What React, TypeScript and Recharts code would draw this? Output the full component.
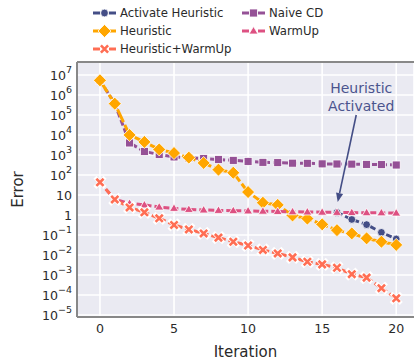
import React from "react";
import { LineChart, Line, XAxis, YAxis, CartesianGrid, ReferenceLine } from "recharts";

const iterations = [0, 1, 2, 3, 4, 5, 6, 7, 8, 9, 10, 11, 12, 13, 14, 15, 16, 17, 18, 19, 20];

const activateHeuristic = [
    null, null, null, null, null, null, null, null, null, null, null,
    null, null, null, null, null, 1.35, 0.6, 0.33, 0.135, 0.063,
];
const naiveCD = [5.4e6, 3.7e5, 4.0e3, 1.5e3, 1.05e3, 800, 710, 660, 590, 540, 480, 430, 415, 390, 385, 360, 355, 350, 340, 330, 316];
const heuristic = [5.4e6, 3.7e5, 1.0e4, 4.5e3, 1.9e3, 1.25e3, 740, 400, 185, 130, 14, 4.1, 3.2, 0.95, 0.66, 0.34, 0.175, 0.12, 0.068, 0.046, 0.032];
const warmUp = [43, 6, 3.8, 3.2, 2.5, 2.15, 1.9, 1.78, 1.7, 1.65, 1.6, 1.55, 1.5, 1.45, 1.42, 1.38, 1.35, 1.32, 1.3, 1.28, 1.25];
const heuristicWarmUp = [43, 6, 2.4, 1.36, 0.68, 0.32, 0.19, 0.12, 0.074, 0.046, 0.03, 0.018, 0.012, 0.0076, 0.0046, 0.0034, 0.0023, 0.0011, 0.00074, 0.00022, 0.000068];

const yTicks = [1e-5, 1e-4, 1e-3, 1e-2, 1e-1, 1, 10, 1e2, 1e3, 1e4, 1e5, 1e6, 1e7];
const xTicks = [0, 5, 10, 15, 20];

const Y_MIN = Math.pow(10, -5.1);
const Y_MAX = Math.pow(10, 7.65);

// annotation arrow: text end -> tip, in data coords
const arrowFrom = { x: 17.3, y: 1e5 };
const arrowTo = { x: 16.05, y: 4.5 };

const series = [
    { key: "activate", name: "Activate Heuristic", values: activateHeuristic, color: "#444e86", marker: "circle", dash: "6 3" },
    { key: "naive", name: "Naive CD", values: naiveCD, color: "#955196", marker: "square", dash: "6 3" },
    { key: "heur", name: "Heuristic", values: heuristic, color: "#ffa600", marker: "diamond", dash: "14 3" },
    { key: "warm", name: "WarmUp", values: warmUp, color: "#dd5182", marker: "triangle", dash: "6 3" },
    { key: "hw", name: "Heuristic+WarmUp", values: heuristicWarmUp, color: "#ff6e54", marker: "x", dash: "6 3" },
];

const data = iterations.map((it, i) => {
    const row: any = { iter: it };
    series.forEach(s => { row[s.key] = s.values[i]; });
    return row;
});

const FONT = "'DejaVu Sans', Verdana, sans-serif";

function Marker({ kind, cx, cy, color }: { kind: string; cx: number; cy: number; color: string }) {
    const w = "#ffffff";
    if (kind === "circle") return <circle cx={cx} cy={cy} r={3.9} fill={color} stroke={w} strokeWidth={0.8} />;
    if (kind === "square") return <rect x={cx - 4} y={cy - 4} width={8} height={8} fill={color} stroke={w} strokeWidth={0.8} />;
    if (kind === "diamond") {
        const d = 6.5;
        return <polygon points={`${cx},${cy - d} ${cx + d},${cy} ${cx},${cy + d} ${cx - d},${cy}`} fill={color} stroke={w} strokeWidth={0.8} />;
    }
    if (kind === "triangle") {
        return <polygon points={`${cx},${cy - 4.5} ${cx + 4.5},${cy + 3} ${cx - 4.5},${cy + 3}`} fill={color} stroke={w} strokeWidth={0.8} />;
    }
    // x
    const a = 3.6;
    return (
        <g>
            <path d={`M${cx - a},${cy - a}L${cx + a},${cy + a}M${cx + a},${cy - a}L${cx - a},${cy + a}`} stroke={w} strokeWidth={4.2} strokeLinecap="square" />
            <path d={`M${cx - a},${cy - a}L${cx + a},${cy + a}M${cx + a},${cy - a}L${cx - a},${cy + a}`} stroke={color} strokeWidth={2.6} />
        </g>
    );
}

const LogTick = ({ x, y, payload }: any) => {
    const e = Math.round(Math.log10(payload.value));
    const style = { fontFamily: FONT };
    if (e === 0 || e === 1) {
        return <text x={x} y={y} dy={4.6} textAnchor="end" fill="#2a2a2a" fontSize={12.6} style={style}>{e === 0 ? "1" : "10"}</text>;
    }
    return (
        <text x={x} y={y} dy={4.6} textAnchor="end" fill="#2a2a2a" fontSize={12.6} style={style}>
            10<tspan dy={-6.6} fontSize={9.5}>{e < 0 ? "\u2212" + -e : String(e)}</tspan>
        </text>
    );
};

const ArrowShape = (props: any) => {
    const { x1, y1, x2, y2 } = props;
    const c = "#444e86";
    const ang = Math.atan2(y2 - y1, x2 - x1);
    const L = 9, H = 3.6;
    const bx = x2 - L * Math.cos(ang), by = y2 - L * Math.sin(ang);
    const px = -Math.sin(ang) * H, py = Math.cos(ang) * H;
    return (
        <g>
            <line x1={x1} y1={y1} x2={bx} y2={by} stroke={c} strokeWidth={1.6} />
            <polygon points={`${x2},${y2} ${bx + px},${by + py} ${bx - px},${by - py}`} fill={c} />
            <text x={x1 + 5} y={y1 - 22} textAnchor="middle" fill="#4b548e" fontSize={14} style={{ fontFamily: FONT }}>Heuristic</text>
            <text x={x1 + 5} y={y1 - 4} textAnchor="middle" fill="#4b548e" fontSize={14} style={{ fontFamily: FONT }}>Activated</text>
        </g>
    );
};

const legendSlots = [
    { key: "activate", left: 93, top: 13 },
    { key: "heur", left: 93, top: 31 },
    { key: "hw", left: 93, top: 49 },
    { key: "naive", left: 242, top: 13 },
    { key: "warm", left: 242, top: 31 },
];

function LegendBox() {
    return (
        <div style={{ position: "absolute", left: 0, top: 0, width: 414, height: 60, pointerEvents: "none" }}>
            {legendSlots.map(slot => {
                const s = series.find(v => v.key === slot.key)!;
                return (
                    <div key={slot.key} style={{ position: "absolute", left: slot.left, top: slot.top - 8, height: 16, display: "flex", alignItems: "center" }}>
                        <svg width={24} height={16} style={{ display: "block" }}>
                            <line x1={0} y1={8} x2={7} y2={8} stroke={s.color} strokeWidth={3} />
                            <line x1={16} y1={8} x2={23} y2={8} stroke={s.color} strokeWidth={3} />
                            <Marker kind={s.marker} cx={11.5} cy={8} color={s.color} />
                        </svg>
                        <span style={{ marginLeft: 3, fontFamily: FONT, fontSize: 11.7, color: "#2a2a2a", whiteSpace: "nowrap" }}>{s.name}</span>
                    </div>
                );
            })}
        </div>
    );
}

export default function App() {
    return (
        <div style={{ position: "absolute", left: 0, top: 0, width: 414, height: 362, background: "#fff", overflow: "hidden" }}>
            <LineChart
                width={414}
                height={362}
                data={data}
                margin={{ top: 62, right: 0, bottom: 0, left: 0 }}
                style={{ fontFamily: FONT }}
            >
                <CartesianGrid fill="#eaeaf2" fillOpacity={1} stroke="#ffffff" strokeWidth={1.6} />
                <XAxis
                    type="number"
                    dataKey="iter"
                    domain={[-1.55, 21.2]}
                    ticks={xTicks}
                    interval={0}
                    allowDataOverflow
                    height={45}
                    tickLine={false}
                    tickSize={0}
                    tickMargin={7}
                    axisLine={{ stroke: "#888888", strokeWidth: 2 }}
                    tick={{ fill: "#2a2a2a", fontSize: 12.6, fontFamily: FONT }}
                    label={{
                        content: ({ viewBox }: any) => (
                            <text x={viewBox.x + viewBox.width / 2} y={viewBox.y + 40} textAnchor="middle" fill="#2a2a2a" fontSize={15} style={{ fontFamily: FONT }}>Iteration</text>
                        ),
                    }}
                />
                <YAxis
                    type="number"
                    scale="log"
                    domain={[Y_MIN, Y_MAX]}
                    ticks={yTicks}
                    interval={0}
                    allowDataOverflow
                    width={77}
                    tickLine={false}
                    tickSize={0}
                    tickMargin={5}
                    axisLine={{ stroke: "#888888", strokeWidth: 2 }}
                    tick={<LogTick />}
                    label={{
                        content: ({ viewBox }: any) => {
                            const cx = viewBox.x + 18;
                            const cy = viewBox.y + viewBox.height / 2;
                            return (
                                <text x={cx} y={cy} transform={`rotate(-90 ${cx} ${cy})`} textAnchor="middle" dominantBaseline="central" fill="#2a2a2a" fontSize={15} style={{ fontFamily: FONT }}>Error</text>
                            );
                        },
                    }}
                />
                <ReferenceLine y={Y_MAX} stroke="#888888" strokeWidth={2} />
                {series.map(s => (
                    <Line
                        key={s.key}
                        dataKey={s.key}
                        name={s.name}
                        stroke={s.color}
                        strokeWidth={3}
                        strokeDasharray={s.dash}
                        isAnimationActive={false}
                        connectNulls={false}
                        activeDot={false}
                        dot={(p: any) => {
                            if (p.cx == null || p.cy == null || p.value == null) return <g key={`${s.key}-${p.index}`} />;
                            return (
                                <g key={`${s.key}-${p.index}`}>
                                    <Marker kind={s.marker} cx={p.cx} cy={p.cy} color={s.color} />
                                </g>
                            );
                        }}
                    />
                ))}
                <ReferenceLine segment={[arrowFrom, arrowTo]} ifOverflow="visible" shape={ArrowShape} />
            </LineChart>
            <LegendBox />
        </div>
    );
}
